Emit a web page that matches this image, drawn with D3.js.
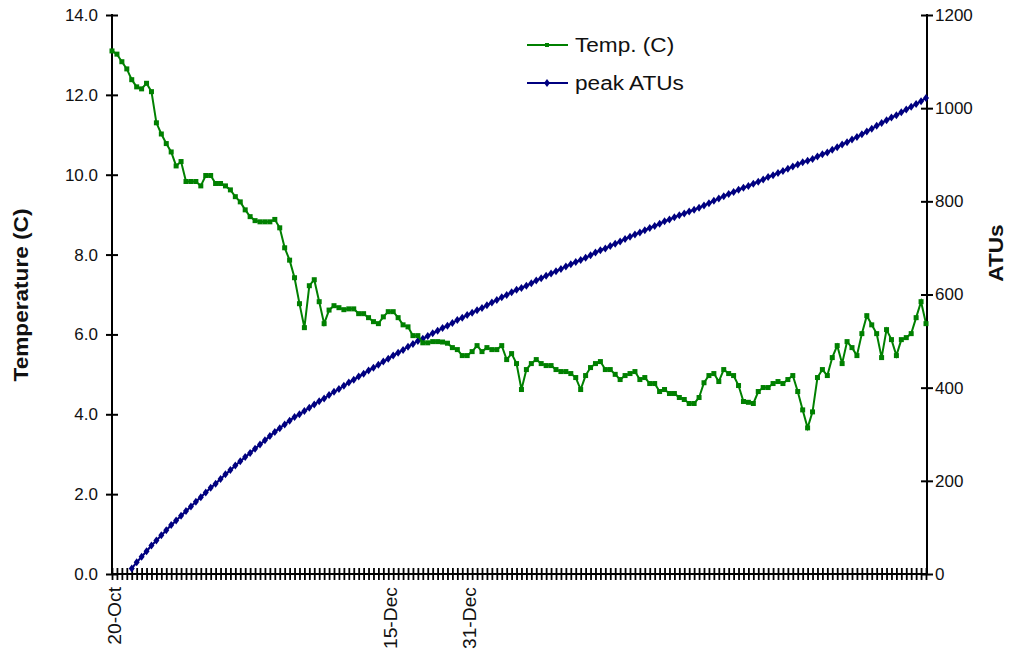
<!DOCTYPE html>
<html>
<head>
<meta charset="utf-8">
<script src="https://cdn.jsdelivr.net/npm/d3@7"></script>
<style>
  body { margin: 0; background: #fff; }
  text { font-family: "Liberation Sans", Arial, sans-serif; fill: #111; }
</style>
</head>
<body>
<svg id="chart" width="1010" height="651"></svg>
<script>
// Daily readings starting 20-Oct
const firstDay = new Date(2004, 9, 20);
const labelledDays = ['20-Oct', '15-Dec', '31-Dec'];
const tempTicks = [0, 2, 4, 6, 8, 10, 12, 14];
const atuTicks = [0, 200, 400, 600, 800, 1000, 1200];
const seriesNames = ['Temp. (C)', 'peak ATUs'];

const temps = [
  13.10, 13.02, 12.83, 12.65, 12.38, 12.20, 12.15, 12.29, 12.08, 11.30,
  11.02, 10.78, 10.57, 10.22, 10.33, 9.83, 9.83, 9.83, 9.72, 9.98,
  9.98, 9.78, 9.78, 9.72, 9.62, 9.45, 9.32, 9.12, 8.95, 8.85,
  8.82, 8.82, 8.82, 8.88, 8.67, 8.17, 7.86, 7.42, 6.77, 6.17,
  7.22, 7.37, 6.82, 6.27, 6.61, 6.72, 6.67, 6.62, 6.64, 6.64,
  6.52, 6.52, 6.42, 6.32, 6.27, 6.44, 6.57, 6.57, 6.42, 6.24,
  6.19, 5.97, 5.97, 5.79, 5.79, 5.82, 5.82, 5.81, 5.78, 5.67,
  5.62, 5.47, 5.47, 5.57, 5.72, 5.57, 5.67, 5.62, 5.62, 5.72,
  5.37, 5.52, 5.27, 4.62, 5.12, 5.27, 5.37, 5.27, 5.22, 5.22,
  5.12, 5.07, 5.07, 5.02, 4.92, 4.62, 4.97, 5.17, 5.27, 5.32,
  5.12, 5.12, 5.00, 4.87, 4.97, 5.02, 5.07, 4.87, 4.92, 4.77,
  4.77, 4.57, 4.62, 4.52, 4.52, 4.42, 4.37, 4.27, 4.27, 4.42,
  4.79, 4.97, 5.02, 4.82, 5.12, 5.02, 4.97, 4.72, 4.32, 4.30,
  4.27, 4.57, 4.67, 4.67, 4.77, 4.82, 4.77, 4.87, 4.97, 4.57,
  4.11, 3.66, 4.06, 4.92, 5.12, 4.97, 5.42, 5.72, 5.27, 5.82,
  5.67, 5.47, 6.02, 6.47, 6.24, 6.02, 5.42, 6.12, 5.87, 5.47,
  5.87, 5.92, 6.02, 6.42, 6.82, 6.27
];

const atus = [
  null, null, null, null, 12, 25, 37, 49, 61, 72,
  83, 94, 105, 115, 125, 135, 145, 155, 165, 175,
  185, 194, 204, 214, 223, 233, 242, 251, 260, 269,
  278, 287, 296, 305, 313, 321, 329, 337, 343, 350,
  357, 364, 371, 377, 384, 391, 397, 404, 411, 417,
  424, 430, 437, 443, 449, 456, 462, 469, 475, 481,
  488, 494, 500, 505, 511, 517, 522, 528, 533, 539,
  545, 550, 556, 561, 566, 571, 577, 583, 588, 594,
  599, 605, 610, 614, 619, 624, 630, 635, 640, 645,
  650, 655, 660, 665, 670, 674, 679, 684, 690, 695,
  699, 704, 709, 714, 719, 724, 729, 733, 738, 743,
  747, 752, 757, 761, 766, 770, 774, 778, 782, 786,
  791, 796, 801, 806, 811, 816, 820, 825, 829, 833,
  838, 842, 847, 852, 856, 861, 865, 870, 875, 879,
  884, 887, 891, 896, 901, 905, 911, 916, 922, 927,
  933, 938, 944, 950, 956, 962, 968, 974, 980, 985,
  991, 997, 1003, 1009, 1015, 1022
];

const days = d3.timeDay.range(firstDay, d3.timeDay.offset(firstDay, temps.length));
const fmtDay = d3.timeFormat('%-d-%b');

const svg = d3.select('#chart');
const plotL = 112, plotR = 927, plotT = 15, plotB = 574;
const green = '#008000', navy = '#000080';

const x = d3.scalePoint().domain(days).range([plotL, plotR - 1]);
const yT = d3.scaleLinear().domain([0, 14]).range([plotB, plotT]);
const yA = d3.scaleLinear().domain([0, 1200]).range([plotB, plotT]);

// stretch text a bit wider, the original renderer uses wide glyphs
function widen(sel, k) {
  sel.each(function () {
    const len = this.getComputedTextLength();
    if (len > 0) d3.select(this).attr('textLength', len * k).attr('lengthAdjust', 'spacingAndGlyphs');
  });
}

// Left axis
const gL = svg.append('g').attr('transform', `translate(${plotL},0)`)
  .call(d3.axisLeft(yT).tickValues(tempTicks).tickFormat(d3.format('.1f')).tickSize(6));
gL.select('.domain').remove();
gL.selectAll('.tick line').attr('x1', 6).attr('stroke', '#000').attr('stroke-width', 2);
gL.selectAll('.tick text').attr('x', -14).attr('font-size', 17).attr('font-family', null);
svg.append('line').attr('x1', plotL).attr('x2', plotL).attr('y1', plotT - 1).attr('y2', plotB + 1)
  .attr('stroke', '#000').attr('stroke-width', 2);

// Right axis
const gR = svg.append('g').attr('transform', `translate(${plotR},0)`)
  .call(d3.axisRight(yA).tickValues(atuTicks).tickFormat(d3.format('d')).tickSize(6));
gR.select('.domain').remove();
gR.selectAll('.tick line').attr('x1', -6).attr('stroke', '#000').attr('stroke-width', 2);
gR.selectAll('.tick text').attr('x', 8).attr('font-size', 17).attr('font-family', null);
svg.append('line').attr('x1', plotR).attr('x2', plotR).attr('y1', plotT - 1).attr('y2', plotB + 1)
  .attr('stroke', '#000').attr('stroke-width', 2);

// Bottom axis, a tick for every day
const gB = svg.append('g').attr('transform', `translate(0,${plotB})`)
  .call(d3.axisBottom(x).tickValues(days).tickSize(6)
    .tickFormat(d => labelledDays.includes(fmtDay(d)) ? fmtDay(d) : ''));
gB.select('.domain').remove();
gB.selectAll('.tick line').attr('y1', -6).attr('stroke', '#000').attr('stroke-width', 1.8);
gB.selectAll('.tick text')
  .attr('transform', 'rotate(-90)')
  .attr('text-anchor', 'end')
  .attr('x', -13).attr('y', 2.5).attr('dy', '0.35em')
  .attr('font-size', 17.5).attr('font-family', null);
svg.append('line').attr('x1', plotL).attr('x2', plotR).attr('y1', plotB).attr('y2', plotB)
  .attr('stroke', '#000').attr('stroke-width', 2);

// peak ATUs
const idx = d3.range(temps.length);
const atuLine = d3.line().defined(i => atus[i] != null).x(i => x(days[i])).y(i => yA(atus[i]));
svg.append('path').datum(idx).attr('d', atuLine)
  .attr('fill', 'none').attr('stroke', navy).attr('stroke-width', 2.2);
const diamondPath = 'M0,-4L3,0L0,4L-3,0Z';
svg.append('g').selectAll('path').data(idx.filter(i => atus[i] != null)).join('path')
  .attr('d', diamondPath)
  .attr('transform', i => `translate(${x(days[i])},${yA(atus[i])})`)
  .attr('fill', navy);

// Temperature
const tLine = d3.line().x(i => x(days[i])).y(i => yT(temps[i]));
svg.append('path').datum(idx).attr('d', tLine)
  .attr('fill', 'none').attr('stroke', green).attr('stroke-width', 2);
svg.append('g').selectAll('rect').data(idx).join('rect')
  .attr('x', i => x(days[i]) - 2.5).attr('y', i => yT(temps[i]) - 2.5)
  .attr('width', 5).attr('height', 5).attr('fill', green);

// Axis titles
svg.append('text')
  .attr('transform', 'translate(28,295) rotate(-90)')
  .attr('text-anchor', 'middle').attr('font-weight', 'bold').attr('font-size', 20)
  .text('Temperature (C)');
svg.append('text')
  .attr('transform', 'translate(1003,253) rotate(-90)')
  .attr('text-anchor', 'middle').attr('font-weight', 'bold').attr('font-size', 20)
  .text('ATUs');

// Legend
const legend = svg.append('g');
[0, 1].forEach(k => {
  const ly = 45 + k * 38;
  const col = k === 0 ? green : navy;
  legend.append('line').attr('x1', 527).attr('x2', 568).attr('y1', ly).attr('y2', ly)
    .attr('stroke', col).attr('stroke-width', 2);
  if (k === 0) {
    legend.append('rect').attr('x', 545).attr('y', ly - 2).attr('width', 4).attr('height', 4).attr('fill', col);
  } else {
    legend.append('path').attr('d', diamondPath).attr('transform', `translate(547,${ly})`).attr('fill', col);
  }
  legend.append('text').attr('x', 575).attr('y', ly).attr('dy', '0.35em')
    .attr('font-size', 20).text(seriesNames[k]);
});

widen(svg.selectAll('text:not(.tick text)'), 1.13);
widen(gB.selectAll('.tick text'), 1.1);
</script>
</body>
</html>
